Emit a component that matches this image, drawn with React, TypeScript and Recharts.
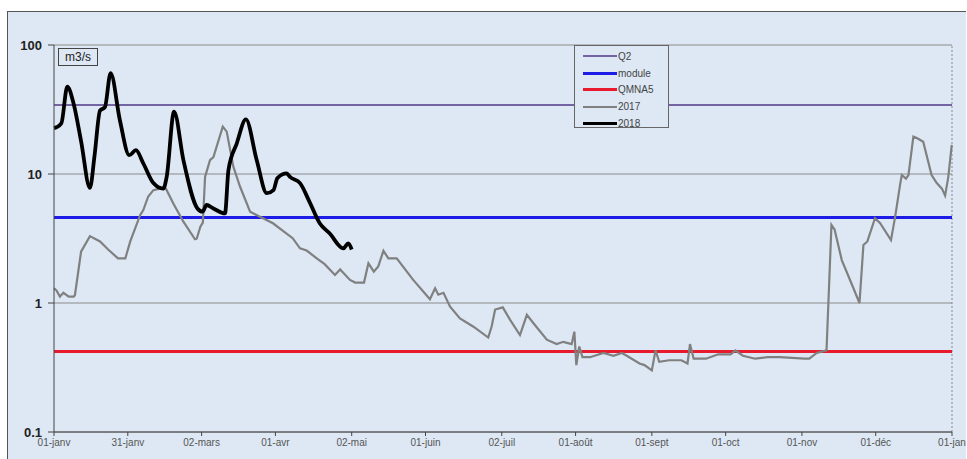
import {
  LineChart,
  Line,
  XAxis,
  YAxis,
  CartesianGrid,
  ReferenceLine,
} from "recharts";

// day-of-year positions for the month ticks
const TICK_DAYS = [0, 30, 60, 90, 121, 151, 182, 212, 243, 273, 304, 334, 365];
const TICK_LABELS = [
  "01-janv", "31-janv", "02-mars", "01-avr", "02-mai", "01-juin", "02-juil",
  "01-août", "01-sept", "01-oct", "01-nov", "01-déc", "01-jan",
];
const Y_TICKS = [0.1, 1, 10, 100];

// reference flows (m3/s)
const Q2 = 34.3;
const MODULE = 4.6;
const QMNA5 = 0.42;

const DAYS_2017 = [
  0, 1, 2.4, 3.8, 6, 8, 8.5, 11, 14.6, 18.7, 22, 26, 29, 31, 35, 36.3, 38.3, 40.4,
  43, 45.5, 48.5, 52.6, 57.3, 58, 59.5, 60.5, 61.4, 63.4, 64.8, 68.6, 70.2, 72.9,
  75.6, 79.7, 83.7, 89, 97, 100, 102.7, 106.8, 110, 114.2, 116.3, 120.3, 122.4,
  126, 127.8, 130, 131.8, 133.9, 135.9, 139.3, 146, 152.8, 154.9, 156.2, 158.3,
  161, 165, 170.5, 176.5, 177.9, 179.3, 182.4, 185.4, 189.4, 192.2, 194.8, 200.3,
  204.3, 207, 210.4, 211.5, 212.3, 213.5, 214.8, 217.9, 223.3, 227.4, 230.8,
  232.8, 238, 240, 243, 244.5, 246, 250, 255, 257.5, 258.5, 260, 265, 270, 275,
  277, 280, 285, 290, 295, 300, 305, 307, 310, 314, 316, 317.3, 320.2, 323.6,
  327.4, 329, 330.6, 333.7, 335.8, 340.2, 341.9, 344, 344.6, 346.3, 347.3, 349.3,
  350.7, 353.3, 356.7, 358.8, 360.9, 362.2, 363.5, 364.9,
];
const FLOW_2017 = [
  1.3, 1.25, 1.12, 1.2, 1.12, 1.12, 1.15, 2.5, 3.3, 3.0, 2.6, 2.22, 2.22, 3.0, 4.8,
  5.25, 6.7, 7.5, 7.7, 7.7, 5.9, 4.27, 3.12, 3.15, 3.9, 4.2, 9.5, 12.8, 13.5, 23.3,
  21.3, 11.4, 8.0, 5.1, 4.67, 4.15, 3.18, 2.65, 2.55, 2.22, 2.0, 1.65, 1.82, 1.51,
  1.44, 1.44, 2.03, 1.75, 1.92, 2.54, 2.22, 2.22, 1.51, 1.07, 1.3, 1.16, 1.2,
  0.935, 0.76, 0.655, 0.54, 0.66, 0.89, 0.925, 0.74, 0.565, 0.81, 0.7, 0.52, 0.48,
  0.5, 0.48, 0.6, 0.33, 0.46, 0.38, 0.38, 0.41, 0.39, 0.41, 0.39, 0.34, 0.33, 0.3,
  0.43, 0.35, 0.36, 0.36, 0.34, 0.48, 0.37, 0.37, 0.4, 0.4, 0.43, 0.39, 0.37, 0.38,
  0.38, 0.375, 0.37, 0.37, 0.41, 0.43, 4.03, 3.7, 2.15, 1.5, 1.0, 2.82, 3.0, 4.54,
  4.15, 3.07, 4.67, 8.5, 9.8, 9.2, 9.8, 19.5, 19, 17.8, 9.8, 8.5, 7.7, 6.8, 9.5, 16.8,
];

const DAYS_2018 = [
  0, 1, 3, 5.4, 7.9, 11, 14.6, 16.5, 18.7, 20.7, 23, 26.8, 30.6, 33.3, 36.3, 40.4,
  44.4, 45.8, 48.8, 52.6, 58.3, 60.4, 62, 64.8, 69.5, 70.9, 74.3, 78, 82.4, 86.5,
  89.2, 90.8, 94.6, 95.9, 100, 104, 108, 112, 117.6, 119.6, 121,
];
const FLOW_2018 = [
  22.7, 23, 24.7, 47.5, 35.5, 18, 7.8, 14, 31, 33, 60.5, 26, 14, 15.3, 12.1, 8.5,
  7.7, 9.5, 30.4, 12.8, 5.4, 5.1, 5.75, 5.4, 4.95, 10.7, 17.3, 26.5, 12.8, 7.1,
  7.5, 9.3, 10.1, 9.5, 8.5, 6, 4.15, 3.47, 2.65, 2.9, 2.6,
];

const data2017 = DAYS_2017.map((d, i) => ({ day: d, flow: FLOW_2017[i] }));
const data2018 = DAYS_2018.map((d, i) => ({ day: d, flow: FLOW_2018[i] }));

const FONT = '"Liberation Sans", Arial, sans-serif';
const BG = "#dde8f4";

const LEGEND = [
  { name: "Q2", color: "#7564a3", width: 2 },
  { name: "module", color: "#1c1ce6", width: 3 },
  { name: "QMNA5", color: "#e81a2e", width: 3 },
  { name: "2017", color: "#808080", width: 2 },
  { name: "2018", color: "#000000", width: 3 },
];

export default function App() {
  return (
    <div style={{ position: "absolute", left: 0, top: 0, width: 967, height: 459, background: "#fff", fontFamily: FONT }}>
      <div
        style={{
          position: "absolute",
          left: 7,
          top: 11,
          width: 958,
          height: 448,
          background: BG,
          borderTop: "1px solid #555",
          borderLeft: "1px solid #555",
        }}
      />
      <div style={{ position: "absolute", left: 0, top: 0 }}>
        <LineChart width={967} height={459} margin={{ top: 45, right: 15, left: 0, bottom: 0 }}>
          <CartesianGrid vertical={false} stroke="#8a8a8a" strokeWidth={1.2} />
          <XAxis
            dataKey="day"
            type="number"
            domain={[0, 365]}
            ticks={TICK_DAYS}
            tickFormatter={(v: number) => TICK_LABELS[TICK_DAYS.indexOf(v)] ?? ""}
            height={27}
            tickSize={4}
            tickMargin={3}
            interval={0}
            allowDuplicatedCategory={false}
            stroke="#444"
            tick={{ fontSize: 10, fill: "#555", fontFamily: FONT }}
          />
          <YAxis
            scale="log"
            domain={[0.1, 100]}
            ticks={Y_TICKS}
            allowDataOverflow
            width={54}
            tickSize={6}
            tickMargin={6}
            interval={0}
            stroke="#444"
            tickFormatter={(v: number) => String(v)}
            tick={{ fontSize: 13, fill: "#222", fontWeight: "bold", fontFamily: FONT }}
          />
          <ReferenceLine x={365} stroke="#888" strokeDasharray="2 2" />
          <ReferenceLine y={Q2} stroke="#7564a3" strokeWidth={2} />
          <ReferenceLine y={MODULE} stroke="#1c1ce6" strokeWidth={3} />
          <ReferenceLine y={QMNA5} stroke="#e81a2e" strokeWidth={3} />
          <Line
            data={data2017}
            dataKey="flow"
            type="linear"
            stroke="#808080"
            strokeWidth={2.2}
            dot={false}
            isAnimationActive={false}
          />
          <Line
            data={data2018}
            dataKey="flow"
            type="monotone"
            stroke="#000"
            strokeWidth={3.8}
            dot={false}
            isAnimationActive={false}
          />
        </LineChart>
      </div>
      <div
        style={{
          position: "absolute",
          left: 58,
          top: 48,
          padding: "1px 6px",
          border: "1.5px solid #444",
          fontSize: 12,
          color: "#222",
          background: BG,
        }}
      >
        m3/s
      </div>
      <div
        style={{
          position: "absolute",
          left: 574,
          top: 45,
          width: 95,
          height: 83,
          border: "1px solid #666",
          background: BG,
          paddingTop: 2,
          boxSizing: "border-box",
        }}
      >
        {LEGEND.map((e) => (
          <div key={e.name} style={{ display: "flex", alignItems: "center", height: 16.8 }}>
            <div style={{ marginLeft: 8, width: 34, height: e.width, background: e.color }} />
            <span style={{ fontSize: 10, color: "#444", marginLeft: 1 }}>{e.name}</span>
          </div>
        ))}
      </div>
    </div>
  );
}
